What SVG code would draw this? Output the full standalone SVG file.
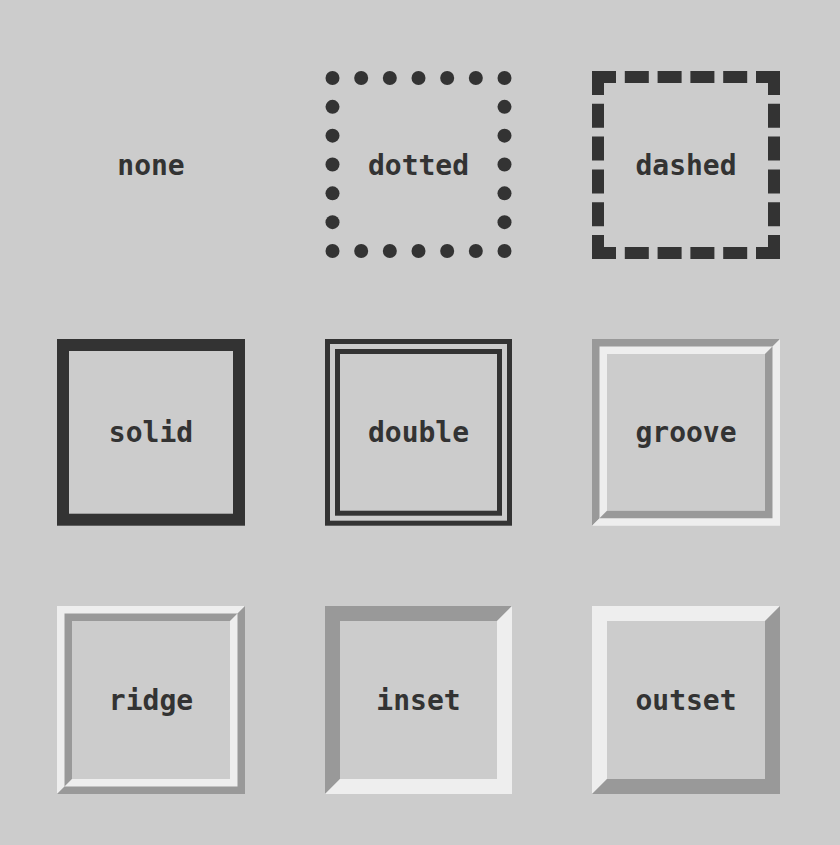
<svg xmlns="http://www.w3.org/2000/svg" width="840" height="845" viewBox="0 0 840 845">
<style>
.lbl{font-family:"DejaVu Sans Mono","Liberation Mono",monospace;font-weight:bold;font-size:28px;fill:#333;text-anchor:middle}
.dot{fill:#333}
.dash{stroke:#333;stroke-width:12;stroke-dasharray:24 8.8;fill:none}
.dk{fill:#999}
.lt{fill:#eee}
</style>
<rect width="840" height="845" fill="#cccccc"/>
<g id="node-none">
<text class="lbl" x="151" y="175.2">none</text>
</g>
<g id="node-dotted">
<circle class="dot" cx="332.5" cy="78" r="7"/><circle class="dot" cx="361.17" cy="78" r="7"/><circle class="dot" cx="389.83" cy="78" r="7"/><circle class="dot" cx="418.5" cy="78" r="7"/><circle class="dot" cx="447.17" cy="78" r="7"/><circle class="dot" cx="475.83" cy="78" r="7"/><circle class="dot" cx="504.5" cy="78" r="7"/>
<circle class="dot" cx="332.5" cy="251" r="7"/><circle class="dot" cx="361.17" cy="251" r="7"/><circle class="dot" cx="389.83" cy="251" r="7"/><circle class="dot" cx="418.5" cy="251" r="7"/><circle class="dot" cx="447.17" cy="251" r="7"/><circle class="dot" cx="475.83" cy="251" r="7"/><circle class="dot" cx="504.5" cy="251" r="7"/>
<circle class="dot" cx="332.5" cy="106.83" r="7"/><circle class="dot" cx="332.5" cy="135.67" r="7"/><circle class="dot" cx="332.5" cy="164.5" r="7"/><circle class="dot" cx="332.5" cy="193.33" r="7"/><circle class="dot" cx="332.5" cy="222.17" r="7"/>
<circle class="dot" cx="504.5" cy="106.83" r="7"/><circle class="dot" cx="504.5" cy="135.67" r="7"/><circle class="dot" cx="504.5" cy="164.5" r="7"/><circle class="dot" cx="504.5" cy="193.33" r="7"/><circle class="dot" cx="504.5" cy="222.17" r="7"/>
<text class="lbl" x="418.5" y="175.2">dotted</text>
</g>
<g id="node-dashed">
<line class="dash" x1="592" y1="77" x2="780" y2="77"/>
<line class="dash" x1="592" y1="253" x2="780" y2="253"/>
<line class="dash" x1="598" y1="71" x2="598" y2="259"/>
<line class="dash" x1="774" y1="71" x2="774" y2="259"/>
<text class="lbl" x="686" y="175.2">dashed</text>
</g>
<g id="node-solid">
<rect x="63" y="345" width="176" height="174.7" fill="none" stroke="#333" stroke-width="12"/>
<text class="lbl" x="151" y="442.4">solid</text>
</g>
<g id="node-double">
<rect x="327.5" y="341.5" width="182" height="181.7" fill="none" stroke="#333" stroke-width="5"/>
<rect x="337.5" y="351.5" width="162" height="161.7" fill="none" stroke="#333" stroke-width="5"/>
<text class="lbl" x="418.5" y="442.4">double</text>
</g>
<g id="node-groove">
<polygon class="dk" points="592,339 780,339 765,354 607,354 607,510.7 592,525.7"/>
<polygon class="lt" points="780,339 780,525.7 592,525.7 607,510.7 765,510.7 765,354"/>
<polygon class="lt" points="599.5,346.5 772.5,346.5 765,354 607,354 607,510.7 599.5,518.2"/>
<polygon class="dk" points="772.5,346.5 772.5,518.2 599.5,518.2 607,510.7 765,510.7 765,354"/>
<text class="lbl" x="686" y="442.4">groove</text>
</g>
<g id="node-ridge">
<polygon class="lt" points="57,606 245,606 230,621 72,621 72,779 57,794"/>
<polygon class="dk" points="245,606 245,794 57,794 72,779 230,779 230,621"/>
<polygon class="dk" points="64.5,613.5 237.5,613.5 230,621 72,621 72,779 64.5,786.5"/>
<polygon class="lt" points="237.5,613.5 237.5,786.5 64.5,786.5 72,779 230,779 230,621"/>
<text class="lbl" x="151" y="710.2">ridge</text>
</g>
<g id="node-inset">
<polygon class="dk" points="325,606 512,606 497,621 340,621 340,779 325,794"/>
<polygon class="lt" points="512,606 512,794 325,794 340,779 497,779 497,621"/>
<text class="lbl" x="418.5" y="710.2">inset</text>
</g>
<g id="node-outset">
<polygon class="lt" points="592,606 780,606 765,621 607,621 607,779 592,794"/>
<polygon class="dk" points="780,606 780,794 592,794 607,779 765,779 765,621"/>
<text class="lbl" x="686" y="710.2">outset</text>
</g>
<g id="connectors"/>
</svg>
